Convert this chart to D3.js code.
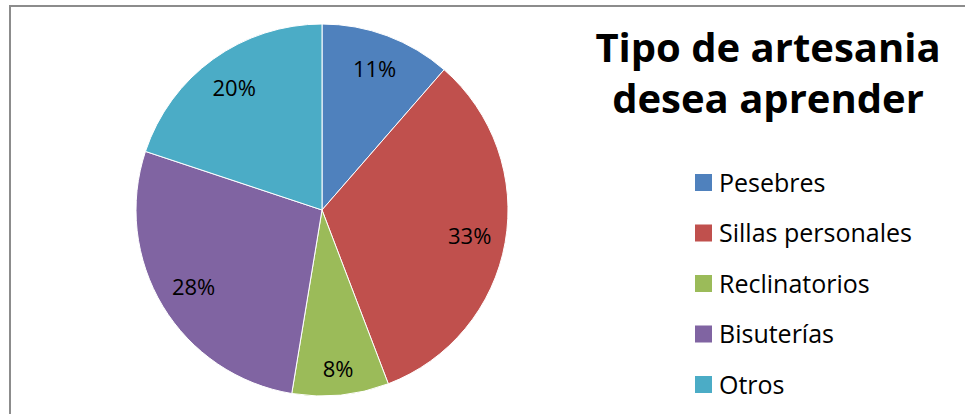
<!DOCTYPE html>
<html>
<head>
<meta charset="utf-8">
<script src="https://cdn.jsdelivr.net/npm/d3@7"></script>
<style>
  body { margin: 0; background: #fff; }
  svg { display: block; }
</style>
</head>
<body>
<svg></svg>
<script>
var categories = ["Pesebres", "Sillas personales", "Reclinatorios", "Bisuterías", "Otros"];
var values = [11.4, 32.8, 8.4, 27.5, 19.9];
var pctLabels = ["11%", "33%", "8%", "28%", "20%"];
var colors = ["#4F81BD", "#C0504D", "#9BBB59", "#8064A2", "#4BACC6"];
var titleLines = ["Tipo de artesania", "desea aprender"];

var width = 965, height = 414;
var font = "'Open Sans', sans-serif";

var svg = d3.select("svg")
    .attr("width", width)
    .attr("height", height);

// chart area border (only top and left visible in the crop)
svg.append("rect")
    .attr("x", 10)
    .attr("y", 6)
    .attr("width", width + 20)
    .attr("height", height + 20)
    .attr("fill", "#fff")
    .attr("stroke", "#8c8c8c")
    .attr("stroke-width", 2);

var cx = 322, cy = 210, radius = 186;

var pie = d3.pie().sort(null).value(function(d) { return d; });
var arc = d3.arc().innerRadius(0).outerRadius(radius);
var labelArc = d3.arc().innerRadius(150).outerRadius(150);

var g = svg.append("g")
    .attr("transform", "translate(" + cx + "," + cy + ")");

var arcs = pie(values);

g.selectAll("path")
  .data(arcs)
  .enter().append("path")
    .attr("d", arc)
    .attr("fill", function(d, i) { return colors[i]; })
    .attr("stroke", "#fff")
    .attr("stroke-width", 1);

g.selectAll("text.pct")
  .data(arcs)
  .enter().append("text")
    .attr("class", "pct")
    .attr("transform", function(d, i) {
      var c = labelArc.centroid(d);
      if (i == 2) { c = d3.arc().innerRadius(160).outerRadius(160).centroid(d); }
      return "translate(" + c[0] + "," + c[1] + ")";
    })
    .attr("text-anchor", "middle")
    .attr("dy", "0.35em")
    .style("font-family", font)
    .style("font-size", "22px")
    .attr("fill", "#000")
    .text(function(d, i) { return pctLabels[i]; });

// title
svg.selectAll("text.title")
  .data(titleLines)
  .enter().append("text")
    .attr("class", "title")
    .attr("x", 768)
    .attr("y", function(d, i) { return 62 + i * 51; })
    .attr("text-anchor", "middle")
    .style("font-family", font)
    .style("font-weight", "bold")
    .style("font-size", "40px")
    .text(function(d) { return d; });

// legend
var legendY = d3.scalePoint()
    .domain(categories)
    .range([183, 385]);

var legend = svg.selectAll("g.legend")
  .data(categories)
  .enter().append("g")
    .attr("class", "legend")
    .attr("transform", function(d) { return "translate(695," + legendY(d) + ")"; });

legend.append("rect")
    .attr("x", 0)
    .attr("y", -9)
    .attr("width", 17)
    .attr("height", 17)
    .attr("fill", function(d, i) { return colors[i]; });

legend.append("text")
    .attr("x", 24)
    .attr("y", 0)
    .attr("dy", "0.35em")
    .style("font-family", font)
    .style("font-size", "25px")
    .text(function(d) { return d; });
</script>
</body>
</html>
